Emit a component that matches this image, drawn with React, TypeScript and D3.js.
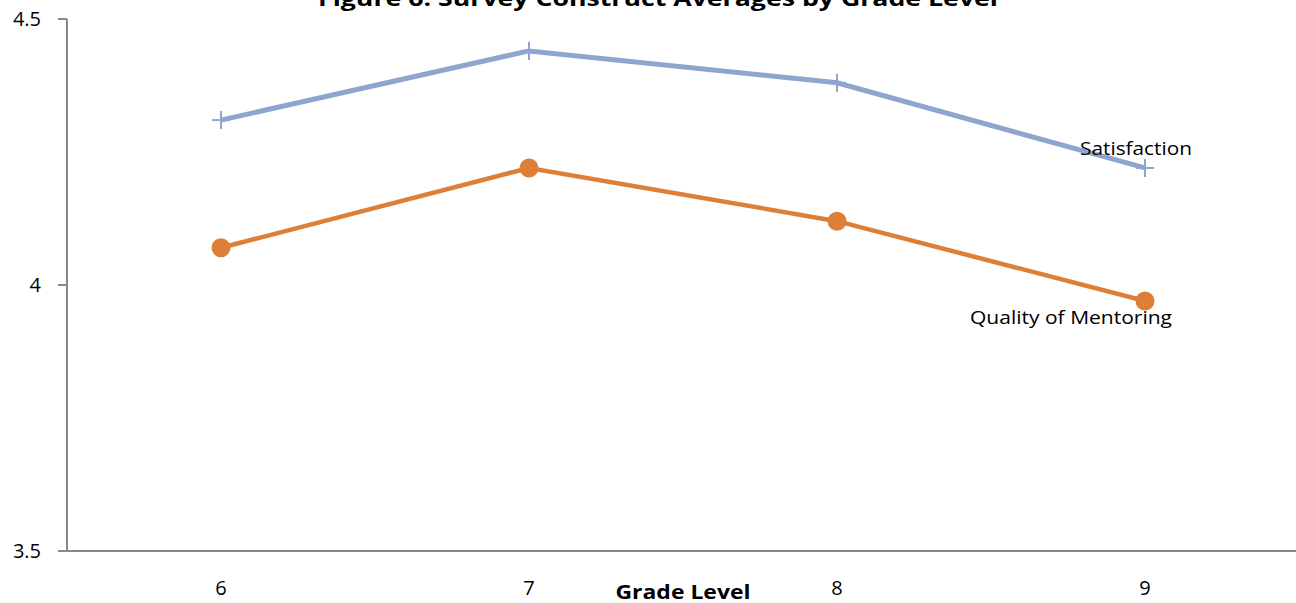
import React from "react";
import * as d3 from "d3";

const grades = ["6", "7", "8", "9"];
const satisfaction = [4.31, 4.44, 4.38, 4.22];
const mentoring = [4.07, 4.22, 4.12, 3.97];
const yTicks = [3.5, 4, 4.5];

const W = 1296, H = 603;
const FONT = "'Open Sans', 'Liberation Sans', sans-serif";

export default function App() {
  const x = d3.scaleBand<string>().domain(grades).range([67, 1299]);
  const y = d3.scaleLinear().domain([3.5, 4.5]).range([551, 19]);
  const cx = (g: string) => (x(g) as number) + x.bandwidth() / 2;
  const line = d3.line<number>().x((_, i) => cx(grades[i])).y((d) => y(d));
  const blue = "#8EA6CF";
  const orange = "#DE7F37";
  return (
    <svg width={W} height={H} style={{ position: "absolute", left: 0, top: 0 }}>
      <rect width={W} height={H} fill="#fff" />
      <text x={658} y={6} textAnchor="middle" fontFamily={FONT} fontWeight="bold" fontSize={21} textLength={680} lengthAdjust="spacingAndGlyphs">
        Figure 6: Survey Construct Averages by Grade Level
      </text>
      <line x1={67} x2={67} y1={19} y2={551} stroke="#888" strokeWidth={2} />
      <line x1={58} x2={1296} y1={551} y2={551} stroke="#888" strokeWidth={2} />
      {yTicks.map((t) => (
        <g key={t}>
          <line x1={58} x2={67} y1={y(t)} y2={y(t)} stroke="#888" strokeWidth={2} />
          <text x={41} y={y(t)} dy="0.35em" textAnchor="end" fontFamily={FONT} fontSize={20} fill="#000">
            {t}
          </text>
        </g>
      ))}
      {grades.map((g) => (
        <text key={g} x={cx(g)} y={588} dy="0.35em" textAnchor="middle" fontFamily={FONT} fontSize={20} fill="#000">
          {g}
        </text>
      ))}
      <text x={683} y={599} textAnchor="middle" fontFamily={FONT} fontWeight="bold" fontSize={19} textLength={135} lengthAdjust="spacingAndGlyphs">
        Grade  Level
      </text>
      <path d={line(satisfaction) || ""} fill="none" stroke={blue} strokeWidth={5} />
      {satisfaction.map((v, i) => (
        <g key={i} stroke={blue} strokeWidth={2}>
          <line x1={cx(grades[i]) - 9} x2={cx(grades[i]) + 9} y1={y(v)} y2={y(v)} />
          <line x1={cx(grades[i])} x2={cx(grades[i])} y1={y(v) - 9} y2={y(v) + 9} />
        </g>
      ))}
      <path d={line(mentoring) || ""} fill="none" stroke={orange} strokeWidth={4.5} />
      {mentoring.map((v, i) => (
        <circle key={i} cx={cx(grades[i])} cy={y(v)} r={9.5} fill={orange} />
      ))}
      <text x={1136} y={155} textAnchor="middle" fontFamily={FONT} fontSize={18} textLength={112} lengthAdjust="spacingAndGlyphs">
        Satisfaction
      </text>
      <text x={1071} y={324} textAnchor="middle" fontFamily={FONT} fontSize={18} textLength={202} lengthAdjust="spacingAndGlyphs">
        Quality of Mentoring
      </text>
    </svg>
  );
}
